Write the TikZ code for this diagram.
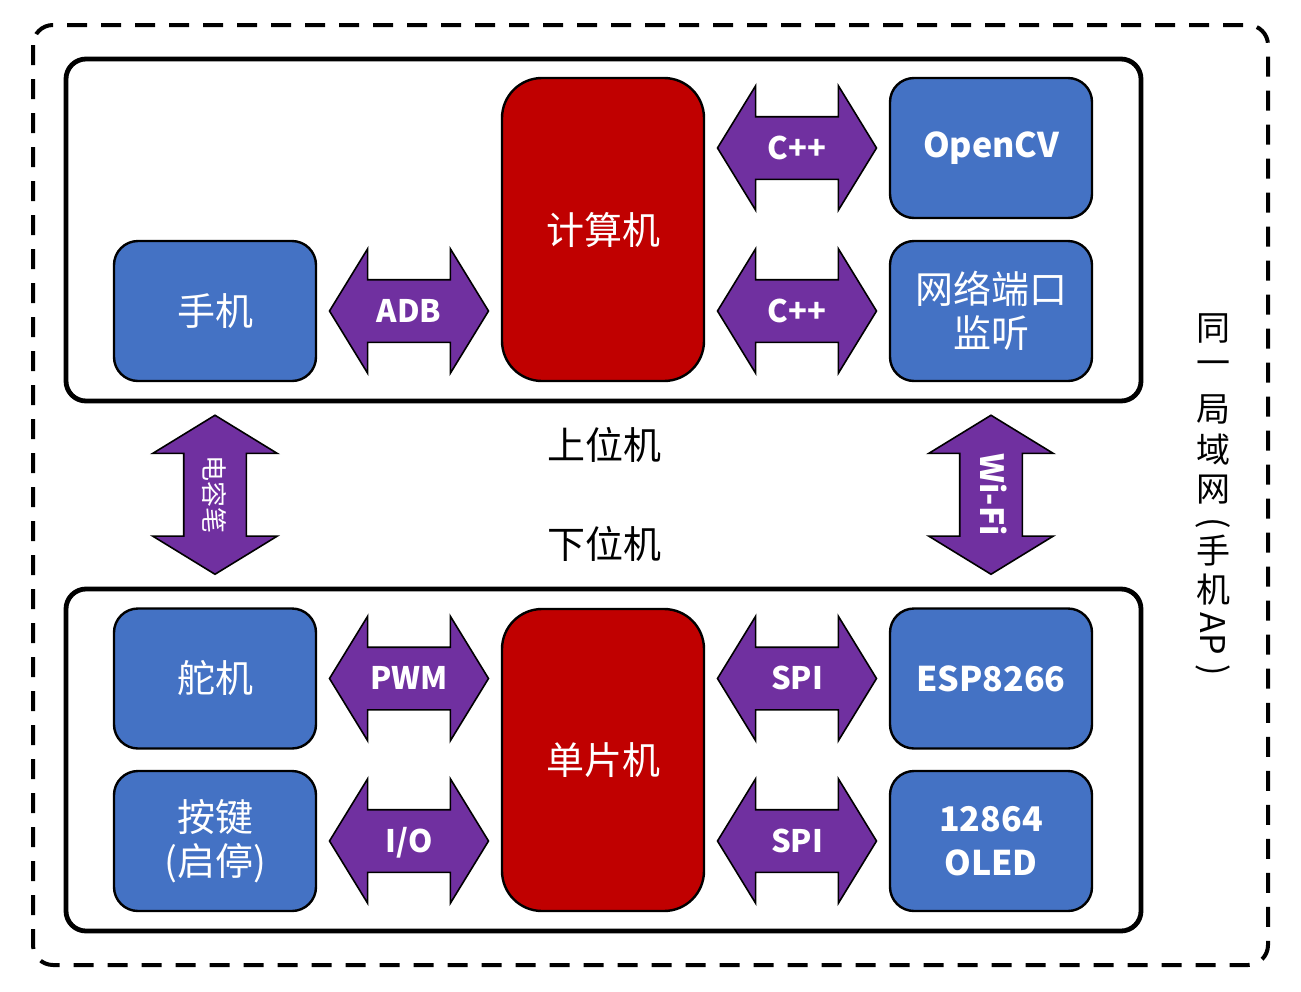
\documentclass[tikz,border=0pt]{standalone}
\usepackage{graphicx}
\usepackage{fontspec}
\setmainfont{Noto Sans CJK SC}
\usetikzlibrary{shapes.arrows,calc,positioning}

\definecolor{boxblue}{HTML}{4472C4}
\definecolor{boxred}{HTML}{C00000}
\definecolor{linkpurple}{HTML}{7030A0}

\tikzset{
  bluebox/.style={draw=black, line width=1.2pt, fill=boxblue, rounded corners=12pt,
    minimum width=101pt, minimum height=70pt, text=white, align=center,
    font=\fontsize{19}{22}\selectfont},
  latinbox/.style={bluebox, font=\fontsize{17}{22}\selectfont\bfseries},
  redbox/.style={draw=black, line width=1.2pt, fill=boxred, rounded corners=20pt,
    minimum width=101pt, minimum height=151.5pt, text=white,
    font=\fontsize{19}{22}\selectfont},
  panel/.style={draw=black, line width=2.4pt, rounded corners=10pt,
    minimum width=537.5pt, minimum height=171pt},
  link/.style={shape=double arrow, draw=black, line width=0.8pt, fill=linkpurple,
    text=white, font=\fontsize{15.5}{18}\selectfont\bfseries,
    minimum height=79.5pt, minimum width=61pt,
    double arrow head extend=15.5pt, double arrow tip angle=117,
    text height=11pt, text depth=0pt, inner xsep=0pt, inner ysep=9.75pt},
  lantext/.style={font=\fontsize{17}{20}\selectfont, inner sep=0pt},
}

\begin{document}
\begin{tikzpicture}[x=0.5pt, y=-0.5pt]
    \useasboundingbox (0,0) rectangle (1301,991);
    % same LAN frame
    \draw[line width=2pt, dash pattern=on 10pt off 7pt, rounded corners=10pt] (33,25) rectangle (1268,965);
    \foreach \c/\y [count=\i] in {同/328,一/368,局/409,域/450,网/490,手/551,机/590}
        \node[lantext] (lan\i) at (1213,\y) {\c};
    \foreach \c/\y [count=\i] in {{(}/523,{AP}/634,{)}/670}
        \node[lantext, rotate=-90] (lanr\i) at (1213,\y) {\c};
    % the two panels
    \node[panel] (upper) at (603.5,230) {};
    \node[panel] (lower) at (603.5,760) {};
    \node[font=\fontsize{19}{22}\selectfont] (uplabel) at (604,445) {上位机};
    \node[font=\fontsize{19}{22}\selectfont] (lowlabel) at (604,544) {下位机};
    % upper machine
    \node[redbox] (pc) at (603,229.5) {计算机};
    \node[bluebox] (phone) at (215,311) {手机};
    \node[latinbox] (opencv) at (991,148) {OpenCV};
    \node[bluebox] (listen) at (991,311) {网络端口\\监听};
    % lower machine
    \node[redbox, minimum height=151pt] (mcu) at (603,760) {单片机};
    \node[bluebox] (servo) at (215,678.5) {舵机};
    \node[bluebox] (key) at (215,841) {按键\\(启停)};
    \node[latinbox] (esp) at (991,678.5) {ESP8266};
    \node[latinbox] (oled) at (991,841) {12864\\OLED};
    % links
    \node[link] (adb) at ($(phone.east)!.5!(phone.east -| pc.west)$) {ADB};
    \node[link] (cppa) at ($(opencv.west)!.5!(opencv.west -| pc.east)$) {C++};
    \node[link] (cppb) at ($(listen.west)!.5!(listen.west -| pc.east)$) {C++};
    \node[link] (pwm) at ($(servo.east)!.5!(servo.east -| mcu.west)$) {PWM};
    \node[link] (io) at ($(key.east)!.5!(key.east -| mcu.west)$) {I/O};
    \node[link] (spia) at ($(esp.west)!.5!(esp.west -| mcu.east)$) {SPI};
    \node[link] (spib) at ($(oled.west)!.5!(oled.west -| mcu.east)$) {SPI};
    \node[link, rotate=-90, font=\fontsize{13}{14}\selectfont] (pen) at ($(phone.south)!.5!(servo.north)$) {电容笔};
    \node[link, rotate=-90, font=\fontsize{16}{18}\selectfont\bfseries] (wifi) at ($(listen.south)!.5!(esp.north)$) {Wi-Fi};
\end{tikzpicture}
\end{document}
